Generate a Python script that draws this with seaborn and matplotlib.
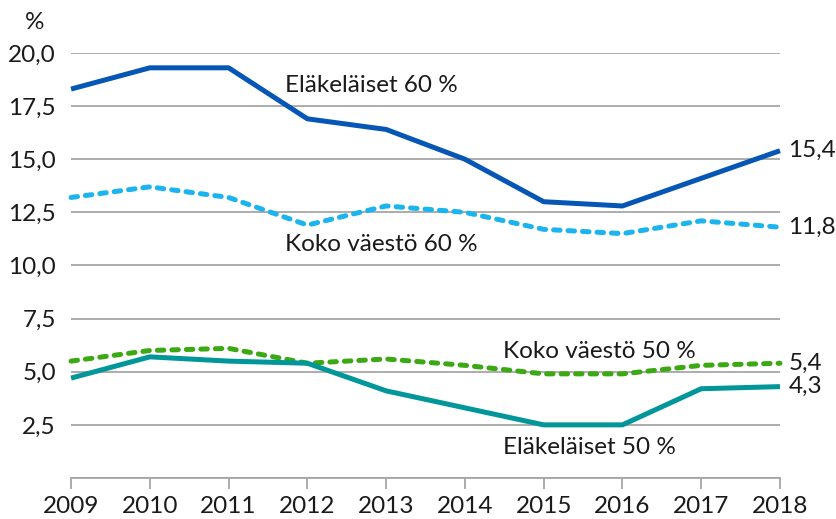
import matplotlib
matplotlib.use("Agg")
import matplotlib.pyplot as plt
import seaborn as sns
import pandas as pd
from matplotlib.ticker import FuncFormatter, MultipleLocator

# Data
years = [2009, 2010, 2011, 2012, 2013, 2014, 2015, 2016, 2017, 2018]
elak_60 = [18.3, 19.3, 19.3, 16.9, 16.4, 15.0, 13.0, 12.8, 14.1, 15.4]
koko_60 = [13.2, 13.7, 13.2, 11.9, 12.8, 12.5, 11.7, 11.5, 12.1, 11.8]
koko_50 = [5.5, 6.0, 6.1, 5.4, 5.6, 5.3, 4.9, 4.9, 5.3, 5.4]
elak_50 = [4.7, 5.7, 5.5, 5.4, 4.1, 3.3, 2.5, 2.5, 4.2, 4.3]

names = ["Eläkeläiset 60 %", "Koko väestö 60 %", "Koko väestö 50 %", "Eläkeläiset 50 %"]
series = [elak_60, koko_60, koko_50, elak_50]
colors = ["#0657B5", "#1BB4EE", "#3CA914", "#01969A"]
dashed = [False, True, True, False]

FS = 17.5

sns.set_theme(style="white")
plt.rcParams["font.family"] = ["Lato", "DejaVu Sans"]

fig = plt.figure(figsize=(8.36, 5.19), dpi=100)
ax = fig.add_axes([0.085, 0.079, 0.848, 0.819])

ax.set_ylim(0, 20)
ax.set_xlim(2009, 2018)
ax.yaxis.set_major_locator(MultipleLocator(2.5))
ax.yaxis.set_major_formatter(FuncFormatter(lambda v, p: f"{v:.1f}".replace(".", ",") if v > 0 else ""))
ax.set_xticks(years)
ax.grid(axis="y", color="#A6A6A6", linewidth=1.3)
ax.set_axisbelow(True)

for name, vals, col, d in zip(names, series, colors, dashed):
    df = pd.DataFrame({"year": years, "value": vals})
    kw = dict(linestyle=(0, (1.3, 1.6)), dash_capstyle="round") if d else dict(solid_capstyle="butt")
    sns.lineplot(data=df, x="year", y="value", color=col, linewidth=3.6, ax=ax, clip_on=False, **kw)
    # end value label
    ax.annotate(f"{vals[-1]:.1f}".replace(".", ","), (years[-1], vals[-1]),
                xytext=(6, 0), textcoords="offset points", va="center", ha="left",
                fontsize=FS, color="#1a1a1a", annotation_clip=False)

# series name labels
ax.text(2011.72, 18.45, names[0], fontsize=FS, va="center", ha="left", color="#1a1a1a")
ax.text(2011.72, 11.0, names[1], fontsize=FS, va="center", ha="left", color="#1a1a1a")
ax.text(2014.48, 5.95, names[2], fontsize=FS, va="center", ha="left", color="#1a1a1a")
ax.text(2014.48, 1.45, names[3], fontsize=FS, va="center", ha="left", color="#1a1a1a")

ax.set_xlabel("")
ax.set_ylabel("")
for s in ["top", "right", "left"]:
    ax.spines[s].set_visible(False)
ax.spines["bottom"].set_color("#A6A6A6")
ax.spines["bottom"].set_linewidth(1.3)
ax.tick_params(axis="x", direction="out", length=8, width=1.3, color="#A6A6A6",
               labelsize=FS, labelcolor="#1a1a1a", pad=5)
ax.tick_params(axis="y", length=0, labelsize=FS, labelcolor="#1a1a1a", pad=11)
ax.xaxis.set_ticks_position("bottom")

fig.text(0.03, 0.957, "%", fontsize=FS, color="#1a1a1a", va="center", ha="left")

fig.savefig("out.png", dpi=100)
